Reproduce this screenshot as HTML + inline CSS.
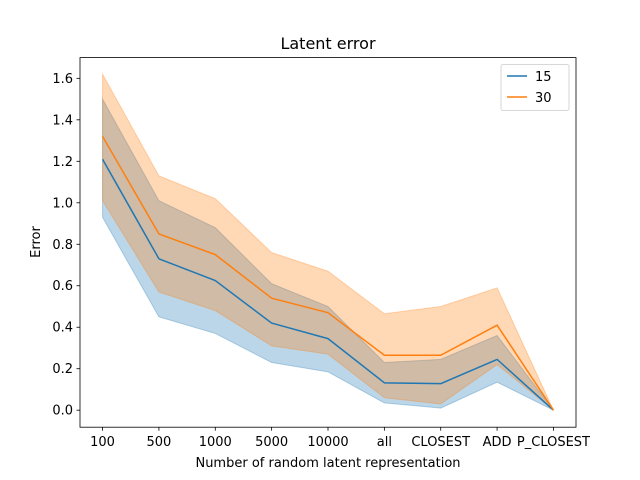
<!DOCTYPE html>
<html><head><meta charset="utf-8"><style>
body{margin:0;background:#fff;}
svg text{font-family:"DejaVu Sans","Liberation Sans",sans-serif;fill:#000;}
</style></head><body>
<svg id="chart" width="640" height="480" xmlns="http://www.w3.org/2000/svg" style="position:absolute;left:0;top:0">
<rect width="640" height="480" fill="#fff"/>
<g id="plot"></g>
</svg>
<script>
const categories=["100","500","1000","5000","10000","all","CLOSEST","ADD","P_CLOSEST"];
const mean15=[1.21,0.73,0.625,0.42,0.345,0.132,0.128,0.245,0.0];
const low15=[0.93,0.45,0.37,0.23,0.185,0.035,0.01,0.135,0.0];
const high15=[1.50,1.01,0.88,0.61,0.50,0.23,0.245,0.36,0.0];
const mean30=[1.32,0.85,0.75,0.54,0.47,0.265,0.265,0.41,0.0];
const low30=[1.01,0.57,0.48,0.31,0.27,0.06,0.03,0.22,0.0];
const high30=[1.62,1.13,1.02,0.76,0.67,0.465,0.50,0.59,0.0];
const yTicks=[0.0,0.2,0.4,0.6,0.8,1.0,1.2,1.4,1.6];
const yTickLabels=["0.0","0.2","0.4","0.6","0.8","1.0","1.2","1.4","1.6"];

const L=80,R=576,T=57.6,B=427.2;
const n=categories.length;
const xmin=-0.4,xmax=n-1+0.4;
const ymin=-0.082,ymax=1.70;
const xs=i=>L+(i-xmin)/(xmax-xmin)*(R-L);
const ys=v=>B-(v-ymin)/(ymax-ymin)*(B-T);
const NS="http://www.w3.org/2000/svg";
const g=document.getElementById('plot');
function mk(tag,attrs,parent){const e=document.createElementNS(NS,tag);for(const k in attrs)e.setAttribute(k,attrs[k]);(parent||g).appendChild(e);return e;}

function band(lo,hi,color,name){
  let d="M"+lo.map((v,i)=>xs(i)+","+ys(v)).join("L");
  for(let i=n-1;i>=0;i--)d+="L"+xs(i)+","+ys(hi[i]);
  d+="Z";
  const p=mk('path',{d:d,fill:color,'fill-opacity':0.3,stroke:color,'stroke-opacity':0.3,'stroke-width':1});
  
  
}
function line(vals,color,name){
  const p=mk('polyline',{points:vals.map((v,i)=>xs(i)+","+ys(v)).join(" "),fill:'none',stroke:color,'stroke-width':1.5,'stroke-linejoin':'round'});
  
  
}
band(low15,high15,'#1f77b4','band-15');
band(low30,high30,'#ff7f0e','band-30');
line(mean15,'#1f77b4','line-15');
line(mean30,'#ff7f0e','line-30');

const frame=mk('rect',{x:L,y:T,width:R-L,height:B-T,fill:'none',stroke:'#000','stroke-width':0.8});



categories.forEach((c,i)=>{
  mk('line',{x1:xs(i),x2:xs(i),y1:B,y2:B+3.5,stroke:'#000','stroke-width':0.8});
  const t=mk('text',{x:xs(i),y:B+19,'text-anchor':'middle','font-size':13});
  t.textContent=c;
  
  
});
yTicks.forEach((v,i)=>{
  mk('line',{x1:L-3.5,x2:L,y1:ys(v),y2:ys(v),stroke:'#000','stroke-width':0.8});
  const t=mk('text',{x:L-7,y:ys(v)+4.5,'text-anchor':'end','font-size':13});
  t.textContent=yTickLabels[i];
  
  
});
</script>
<svg style="position:absolute;left:0;top:0" width="640" height="480" xmlns="http://www.w3.org/2000/svg">
<text x="328" y="49" text-anchor="middle" font-size="16">Latent error</text>
<text x="328" y="467" text-anchor="middle" font-size="13">Number of random latent representation</text>
<text x="40" y="242" text-anchor="middle" font-size="13" transform="rotate(-90 40 242)">Error</text>
<g>
<rect x="501" y="64.5" width="68" height="46" rx="2" fill="#fff" fill-opacity="0.8" stroke="#ccc" stroke-width="0.8"/>
<line x1="507" x2="527" y1="76" y2="76" stroke="#1f77b4" stroke-width="1.5"/>
<text x="535" y="81" font-size="13">15</text>
<line x1="507" x2="527" y1="97" y2="97" stroke="#ff7f0e" stroke-width="1.5"/>
<text x="535" y="102" font-size="13">30</text>
</g>
</svg>
</body></html>
